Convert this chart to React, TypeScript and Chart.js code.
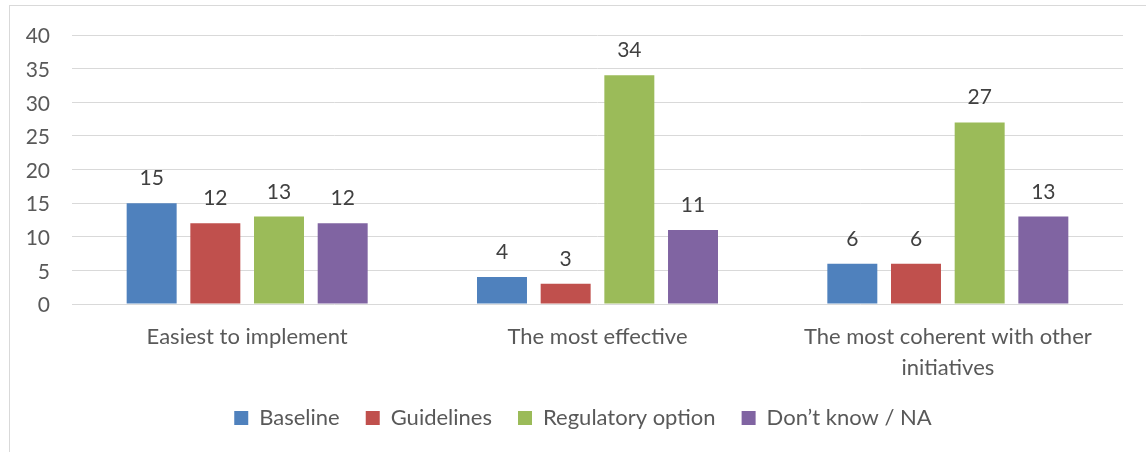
import React, { useEffect, useRef } from "react";
import { Chart, registerables } from "chart.js";

Chart.register(...registerables);

const categories: (string | string[])[] = [
  "Easiest to implement",
  "The most effective",
  ["The most coherent with other", "initiatives"],
];
const seriesNames = ["Baseline", "Guidelines", "Regulatory option", "Don’t know / NA"];
const baseline = [15, 4, 6];
const guidelines = [12, 3, 6];
const regulatory = [13, 34, 27];
const dontKnow = [12, 11, 13];
const seriesColors = ["#4F81BD", "#C0504D", "#9BBB59", "#8064A2"];
const yTicksMax = 40;
const yTicksStep = 5;

const FONT = "Lato, 'Open Sans', sans-serif";

const noClipPlugin = {
  id: "noLabelClip",
  beforeDraw(chart: any) {
    Object.values(chart.scales).forEach((s: any) => {
      s._computeLabelArea = () => undefined;
    });
  },
};

const dataLabelPlugin = {
  id: "barValueLabels",
  afterDatasetsDraw(chart: any) {
    const ctx = chart.ctx;
    ctx.save();
    ctx.font = `21px ${FONT}`;
    ctx.fillStyle = "#404040";
    ctx.textAlign = "center";
    ctx.textBaseline = "alphabetic";
    chart.data.datasets.forEach((ds: any, i: number) => {
      const meta = chart.getDatasetMeta(i);
      meta.data.forEach((bar: any, j: number) => {
        ctx.fillText(String(ds.data[j]), bar.x, bar.y - 18);
      });
    });
    ctx.restore();
  },
};

export default function App() {
  const ref = useRef<HTMLCanvasElement | null>(null);
  useEffect(() => {
    if (!ref.current) return;
    const values = [baseline, guidelines, regulatory, dontKnow];
    const chart = new Chart(ref.current, {
      type: "bar",
      data: {
        labels: categories as any,
        datasets: values.map((v, i) => ({
          label: seriesNames[i],
          data: v,
          backgroundColor: seriesColors[i],
          borderWidth: 0,
          categoryPercentage: 0.727,
          barPercentage: 0.785,
        })),
      },
      options: {
        responsive: false,
        animation: false,
        layout: { padding: { left: 43, right: 23, top: 35, bottom: 13 } },
        plugins: {
          legend: {
            position: "bottom",
            labels: {
              boxWidth: 14,
              boxHeight: 14,
              padding: 26,
              color: "#595959",
              font: { family: FONT, size: 22 },
            },
          },
          tooltip: { enabled: false },
        },
        scales: {
          x: {
            grid: { display: false, drawTicks: false },
            border: { display: false },
            ticks: {
              color: "#595959",
              font: { family: FONT, size: 22, lineHeight: 1.41 },
              padding: 17,
              maxRotation: 0,
              autoSkip: false,
            },
            afterFit: (s: any) => {
              s.height = 77;
            },
          },
          y: {
            min: 0,
            max: yTicksMax,
            grid: { color: "#d9d9d9", lineWidth: 1, drawTicks: false },
            border: { display: false },
            ticks: {
              stepSize: yTicksStep,
              color: "#595959",
              font: { family: FONT, size: 21 },
              padding: 22,
              labelOffset: 1.5,
            },
            afterFit: (s: any) => {
              s.width = 29;
            },
          },
        },
      },
      plugins: [noClipPlugin, dataLabelPlugin],
    });
    return () => chart.destroy();
  }, []);
  return (
    <div style={{ position: "absolute", left: 0, top: 0, width: 1146, height: 452, background: "#fff", overflow: "hidden" }}>
      <div
        style={{
          position: "absolute",
          left: 9,
          top: 5,
          width: 1200,
          height: 500,
          borderLeft: "1px solid #d9d9d9",
          borderTop: "1px solid #d9d9d9",
          boxSizing: "border-box",
        }}
      />
      <canvas ref={ref} width={1146} height={452} style={{ position: "absolute", left: 0, top: 0, display: "block" }} />
    </div>
  );
}
